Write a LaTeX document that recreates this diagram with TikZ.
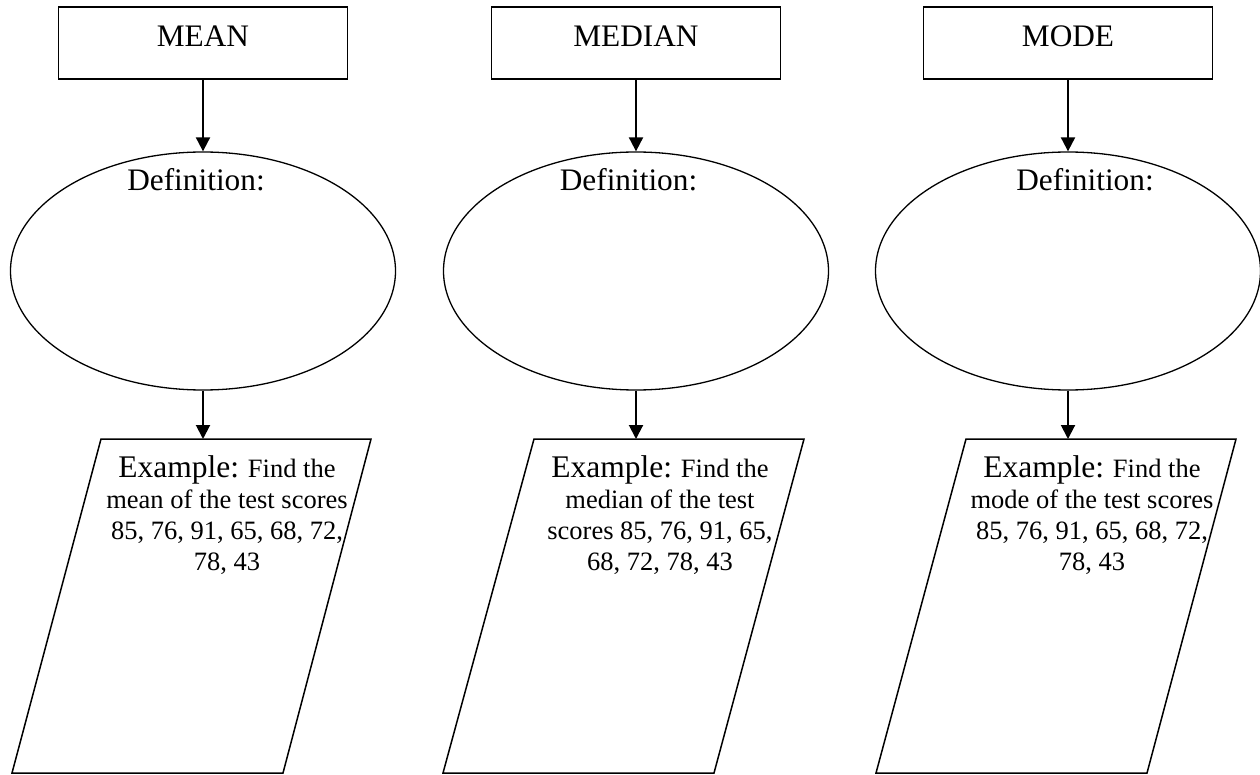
\documentclass[tikz,border=0pt]{standalone}
\usepackage{fontspec}
\setmainfont{Liberation Serif}
\usetikzlibrary{shapes.geometric,arrows.meta}
\tikzset{
  topbox/.style={draw, line width=1.5pt, minimum width=289pt, minimum height=72pt, inner sep=0pt},
  defell/.style={draw, ellipse, line width=1.3pt, minimum width=385pt, minimum height=238pt, inner sep=0pt},
  bigtxt/.style={font=\fontsize{31.3}{36}\selectfont, inner sep=0pt, anchor=base},
  extxt/.style={font=\fontsize{26.5}{31}\selectfont, inner sep=0pt, anchor=base, align=center},
  conn/.style={line width=2pt, -{Triangle[length=14pt,width=14pt]}},
  paraline/.style={draw, line width=1.5pt, line join=miter}
}
\newcommand{\Ex}{{\fontsize{31.5}{31}\selectfont Example:}}
\begin{document}
\begin{tikzpicture}[x=1pt,y=-1pt]
\useasboundingbox (0,0) rectangle (1260,775);
% ---------- column 1 : MEAN
\node[topbox] (box1) at (203,43) {};
\node[bigtxt] (t1) at (203,47) {MEAN};
\node[defell] (ell1) at (203,271) {};
\node[bigtxt] (d1) at (196,191) {Definition:};
\path[paraline] (101,439) -- (371,439) -- (283,773) -- (12,773) -- cycle;
\coordinate (p1) at (203,439);
\node[extxt] (e1) at (227,570) {\Ex{} Find the\\mean of the test scores\\85, 76, 91, 65, 68, 72,\\78, 43};
\draw[conn] (box1.south) -- (ell1.north);
\draw[conn] (ell1.south) -- (p1);
% ---------- column 2 : MEDIAN
\node[topbox] (box2) at (636,43) {};
\node[bigtxt] (t2) at (636,47) {MEDIAN};
\node[defell] (ell2) at (636,271) {};
\node[bigtxt] (d2) at (628.5,191) {Definition:};
\path[paraline] (534,439) -- (804,439) -- (714,773) -- (443,773) -- cycle;
\coordinate (p2) at (636,439);
\node[extxt] (e2) at (660,570) {\Ex{} Find the\\median of the test\\scores 85, 76, 91, 65,\\68, 72, 78, 43};
\draw[conn] (box2.south) -- (ell2.north);
\draw[conn] (ell2.south) -- (p2);
% ---------- column 3 : MODE
\node[topbox] (box3) at (1068,43) {};
\node[bigtxt] (t3) at (1068,47) {MODE};
\node[defell] (ell3) at (1068,271) {};
\node[bigtxt] (d3) at (1085,191) {Definition:};
\path[paraline] (966,439) -- (1236,439) -- (1147,773) -- (876,773) -- cycle;
\coordinate (p3) at (1068,439);
\node[extxt] (e3) at (1092,570) {\Ex{} Find the\\mode of the test scores\\85, 76, 91, 65, 68, 72,\\78, 43};
\draw[conn] (box3.south) -- (ell3.north);
\draw[conn] (ell3.south) -- (p3);
\end{tikzpicture}
\end{document}
